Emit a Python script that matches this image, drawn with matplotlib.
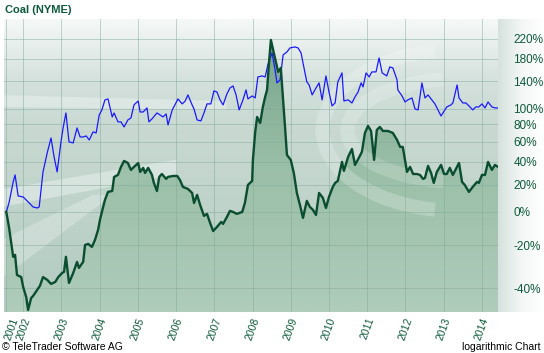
import numpy as np
import matplotlib.pyplot as plt
import matplotlib.transforms as mtransforms
from matplotlib.colors import LinearSegmentedColormap
from matplotlib.patches import Polygon, Arc

plt.rcParams['font.family'] = ['Liberation Sans', 'DejaVu Sans']

# Coal (NYME), % change since start
coal_t = [2001.56, 2001.63, 2001.74, 2001.79, 2001.84, 2001.95, 2002.00, 2002.08, 2002.13, 2002.21,
          2002.26, 2002.37, 2002.44, 2002.52, 2002.63, 2002.73, 2002.84, 2002.92, 2003.02, 2003.07,
          2003.12, 2003.20, 2003.31, 2003.41, 2003.46, 2003.57, 2003.62, 2003.70, 2003.80, 2003.88,
          2003.96, 2004.01, 2004.06, 2004.14, 2004.22, 2004.33, 2004.38, 2004.48, 2004.56, 2004.64,
          2004.74, 2004.82, 2004.90, 2005.01, 2005.06, 2005.14, 2005.19, 2005.27, 2005.37, 2005.42,
          2005.50, 2005.56, 2005.63, 2005.74, 2005.79, 2005.92, 2006.03, 2006.10, 2006.18, 2006.31,
          2006.42, 2006.47, 2006.55, 2006.63, 2006.73, 2006.81, 2006.89, 2006.97, 2007.07, 2007.18,
          2007.23, 2007.33, 2007.41, 2007.49, 2007.59, 2007.73, 2007.80, 2007.88, 2007.99, 2008.01,
          2008.07, 2008.12, 2008.20, 2008.27, 2008.33, 2008.38, 2008.43, 2008.48, 2008.54, 2008.61,
          2008.67, 2008.74, 2008.80, 2008.85, 2008.90, 2009.00, 2009.08, 2009.16, 2009.24, 2009.32,
          2009.42, 2009.50, 2009.58, 2009.66, 2009.74, 2009.84, 2009.92, 2010.00, 2010.10, 2010.16,
          2010.23, 2010.34, 2010.39, 2010.50, 2010.60, 2010.68, 2010.78, 2010.86, 2010.94, 2011.02,
          2011.10, 2011.18, 2011.25, 2011.33, 2011.41, 2011.54, 2011.67, 2011.78, 2011.86, 2011.93,
          2012.04, 2012.12, 2012.20, 2012.30, 2012.38, 2012.46, 2012.51, 2012.59, 2012.67, 2012.74,
          2012.82, 2012.93, 2013.01, 2013.08, 2013.16, 2013.24, 2013.40, 2013.48, 2013.55, 2013.66,
          2013.76, 2013.87, 2013.92, 2014.00, 2014.08, 2014.16, 2014.26, 2014.34, 2014.42]
coal_pct = [0, -9.6, -26, -25, -34.5, -35.4, -39.5, -43.5, -48.2, -43.9,
            -43.1, -40.7, -39.1, -35.4, -36.6, -38.3, -37.5, -35.4, -33.6, -33.1,
            -26, -37.9, -33.6, -28.5, -31.3, -28.5, -19.9, -19.3, -20.9, -17.1,
            -11.4, -5.2, 0, 8.4, 14.4, 15.1, 26.5, 28.2, 35.3, 40.8,
            38.9, 32.6, 35.3, 38.9, 30.8, 34.4, 29.9, 34.4, 28.2, 21.5,
            15.1, 26.5, 29.0, 24.8, 26.5, 27.3, 27.3, 24.0, 18.3, 16.7,
            13.6, 6.2, 12.1, 4.8, -2.6, -1.3, -7.1, -12.0, -9.6, -6.5,
            -7.7, -3.3, 0.7, 0, -1.3, 0, 6.2, 19.9, 23.1, 41.8,
            71.1, 89.2, 81.7, 102.3, 116.4, 126.8, 171.8, 217.2, 196.6, 173.7,
            155.9, 162.9, 112.1, 76.9, 46.6, 41.8, 29.9, 13.6, 4.8, -3.9,
            7.7, 3.4, 1.4, -2.0, 13.6, 9.9, 2.7, 10.6, 18.3, 21.5,
            23.1, 39.9, 31.7, 44.7, 52.6, 37.1, 43.7, 49.6, 69.9, 78.1,
            72.2, 41.8, 73.4, 76.9, 72.2, 72.2, 69.9, 62.1, 54.7, 54.7,
            30.8, 35.3, 29.0, 29.0, 28.2, 24.8, 25.6, 36.2, 29.9, 21.5,
            30.8, 37.1, 29.0, 29.0, 34.4, 28.2, 38.9, 22.3, 19.9, 14.4,
            18.3, 22.3, 21.5, 28.2, 28.2, 39.9, 32.6, 37.1, 35.3]

# comparison series (blue)
bench_t = [2001.56, 2001.63, 2001.74, 2001.79, 2001.87, 2002.00, 2002.08, 2002.16, 2002.26, 2002.37,
           2002.42, 2002.52, 2002.63, 2002.73, 2002.81, 2002.89, 2002.99, 2003.05, 2003.12, 2003.20,
           2003.31, 2003.41, 2003.49, 2003.57, 2003.65, 2003.73, 2003.83, 2003.91, 2003.99, 2004.06,
           2004.14, 2004.22, 2004.33, 2004.38, 2004.48, 2004.56, 2004.64, 2004.74, 2004.82, 2004.90,
           2005.01, 2005.06, 2005.14, 2005.24, 2005.29, 2005.37, 2005.50, 2005.58, 2005.66, 2005.74,
           2005.79, 2005.90, 2005.97, 2006.05, 2006.16, 2006.24, 2006.31, 2006.42, 2006.47, 2006.55,
           2006.65, 2006.73, 2006.81, 2006.91, 2006.99, 2007.07, 2007.15, 2007.23, 2007.33, 2007.41,
           2007.49, 2007.57, 2007.65, 2007.75, 2007.83, 2007.88, 2007.99, 2008.07, 2008.14, 2008.25,
           2008.33, 2008.40, 2008.51, 2008.59, 2008.64, 2008.72, 2008.80, 2008.90, 2008.98, 2009.11,
           2009.19, 2009.27, 2009.32, 2009.42, 2009.48, 2009.56, 2009.66, 2009.74, 2009.82, 2009.92,
           2010.00, 2010.08, 2010.16, 2010.23, 2010.34, 2010.39, 2010.50, 2010.60, 2010.68, 2010.76,
           2010.84, 2010.89, 2010.97, 2011.05, 2011.12, 2011.23, 2011.31, 2011.39, 2011.51, 2011.59,
           2011.67, 2011.78, 2011.80, 2011.91, 2011.99, 2012.06, 2012.17, 2012.25, 2012.33, 2012.43,
           2012.51, 2012.59, 2012.69, 2012.77, 2012.85, 2012.93, 2012.98, 2013.08, 2013.19, 2013.24,
           2013.35, 2013.40, 2013.50, 2013.58, 2013.66, 2013.76, 2013.84, 2013.92, 2014.00, 2014.08,
           2014.16, 2014.26, 2014.34, 2014.42]
bench_pct = [0, 6.2, 22.3, 28.2, 11.3, 10.6, 8.4, 6.2, 3.4, 2.7,
             3.4, 30.8, 48.6, 64.3, 44.7, 30.8, 60.0, 76.9, 94.3, 60.0,
             58.9, 75.7, 65.4, 65.4, 66.5, 62.1, 71.1, 69.9, 91.7, 98.3,
             112.1, 113.5, 89.2, 94.3, 83.0, 83.0, 76.9, 85.4, 87.9, 105.1,
             110.6, 95.6, 95.6, 101.0, 83.0, 86.7, 94.3, 91.7, 89.2, 93.0,
             79.3, 98.3, 105.1, 113.5, 106.5, 110.6, 119.3, 105.1, 99.6, 85.4,
             84.2, 94.3, 106.5, 106.5, 125.3, 123.7, 112.1, 105.1, 120.8, 129.8,
             132.9, 119.3, 98.3, 112.1, 126.8, 113.5, 117.8, 114.9, 147.4, 149.1,
             147.4, 168.2, 190.7, 159.4, 137.7, 142.5, 186.8, 192.7, 200.6, 202.6,
             200.6, 190.7, 171.8, 139.3, 134.5, 119.3, 129.8, 137.7, 112.1, 149.1,
             123.7, 103.7, 107.8, 139.3, 154.2, 110.6, 112.1, 107.8, 116.4, 123.7,
             137.7, 131.4, 154.2, 147.4, 155.9, 155.9, 181.1, 154.2, 149.1, 164.6,
             162.9, 142.5, 126.8, 117.8, 109.2, 112.1, 114.9, 99.6, 98.3, 137.7,
             114.9, 119.3, 112.1, 106.5, 98.3, 90.4, 94.3, 102.3, 105.1, 107.8,
             134.5, 114.9, 107.8, 107.8, 103.7, 98.3, 102.3, 102.3, 106.5, 101.0,
             109.2, 102.3, 101.0, 101.0]

year_ticks = [2001.56, 2002, 2003, 2004, 2005, 2006, 2007, 2008, 2009, 2010, 2011, 2012, 2013, 2014]
year_labels = [str(y) for y in range(2001, 2015)]
pct_ticks = [-40, -20, 0, 20, 40, 60, 80, 100, 140, 180, 220]

txt_green = '#0c5a3b'

fig = plt.figure(figsize=(5.44, 3.53), dpi=100)

# faded panel behind the right-hand labels
bg = fig.add_axes([498 / 544, 1 - 312 / 353, 46 / 544, 293 / 353])
side = LinearSegmentedColormap.from_list('side', ['#d6e2dd', '#f3f6f5', '#ffffff'])
bg.imshow(np.linspace(0, 1, 50)[None, :], cmap=side, aspect='auto', extent=[0, 1, 0, 1])
bg.axis('off')

ax = fig.add_axes([4 / 544, 1 - 312 / 353, 494 / 544, 293 / 353])
ax.set_yscale('log')
ax.set_xlim(2001.50, 2014.42)
ax.set_ylim(0.511, 3.65)

# background gradient
back = LinearSegmentedColormap.from_list('back', [(0, '#b2cbc0'), (0.35, '#bfd3ca'),
                                                  (0.62, '#c9d9d2'), (0.78, '#d3e0db'),
                                                  (1, '#f5f8f7')])
ax.imshow(np.linspace(0, 1, 256)[:, None], cmap=back, origin='lower', aspect='auto',
          extent=[0, 1, 0, 1], transform=ax.transAxes, zorder=0)

# soft white streaks
for pts, a in [([(0, 0.42), (0.35, 0.52), (0.35, 0.47), (0, 0.36)], 0.35),
               ([(0, 0.74), (0.45, 0.72), (0.45, 0.69), (0, 0.70)], 0.3),
               ([(0, 0.25), (0.18, 0.40), (0.22, 0.40), (0, 0.12)], 0.25)]:
    ax.add_patch(Polygon(pts, closed=True, transform=ax.transAxes, facecolor='white',
                         edgecolor='none', alpha=a, zorder=0.5))

# gradient fill below the coal line
fill = ax.fill_between(coal_t, [1 + v / 100 for v in coal_pct], 0.3, facecolor='none',
                       edgecolor='none')
fcm = LinearSegmentedColormap.from_list('fill', [(0, '#b0cdbb'), (0.5, '#93bba1'),
                                                 (1, '#5e9478')])
im = ax.imshow(np.linspace(0, 1, 256)[:, None], cmap=fcm, origin='lower', aspect='auto',
               extent=[0, 1, 0, 1], transform=ax.transAxes, zorder=1, alpha=0.85)
im.set_clip_path(fill.get_paths()[0], transform=ax.transData)

# swirl logo hint
for w, h, a in [(0.55, 0.55, 0.22), (0.45, 0.35, 0.18)]:
    ax.add_patch(Arc((0.92, 0.62), w, h, theta1=100, theta2=260, transform=ax.transAxes,
                     color='white', lw=10, alpha=a, zorder=1.5))

ax.set_xticks(year_ticks)
ax.set_xticklabels(year_labels, rotation=70, fontsize=7.5, color=txt_green)
ax.set_yticks([1 + p / 100 for p in pct_ticks])
ax.set_yticklabels([f'{p}%' for p in pct_ticks], fontsize=8.5, color=txt_green)
ax.yaxis.set_minor_locator(plt.NullLocator())
ax.yaxis.tick_right()
ax.tick_params(axis='y', length=0, pad=11)
ax.tick_params(axis='x', length=0, pad=3)
for lbl in ax.get_yticklabels():
    lbl.set_horizontalalignment('left')
# first year label sits at the series start, nudge it inside the figure
first = ax.get_xticklabels()[0]
first.set_transform(first.get_transform() +
                    mtransforms.ScaledTranslation(5 / 100, 0, fig.dpi_scale_trans))
ax.grid(True, color='#7fa897', lw=0.6, alpha=0.55, zorder=2)
ax.set_axisbelow(False)
for s in ax.spines.values():
    s.set_visible(False)

ax.plot(bench_t, [1 + v / 100 for v in bench_pct], color='#1a1aff', lw=0.9, zorder=3)
ax.plot(coal_t, [1 + v / 100 for v in coal_pct], color='#0b4d30', lw=1.7, zorder=4)

fig.text(5 / 544, 1 - 10 / 353, 'Coal (NYME)', fontsize=8, fontweight='bold', color=txt_green,
         va='center', ha='left')
fig.text(2 / 544, 1 - 347 / 353, '\u00a9 TeleTrader Software AG', fontsize=7.5, color='black',
         va='center', ha='left')
fig.text(540 / 544, 1 - 347 / 353, 'logarithmic Chart', fontsize=7.5, color='black',
         va='center', ha='right')

fig.savefig('out.png', dpi=100)
